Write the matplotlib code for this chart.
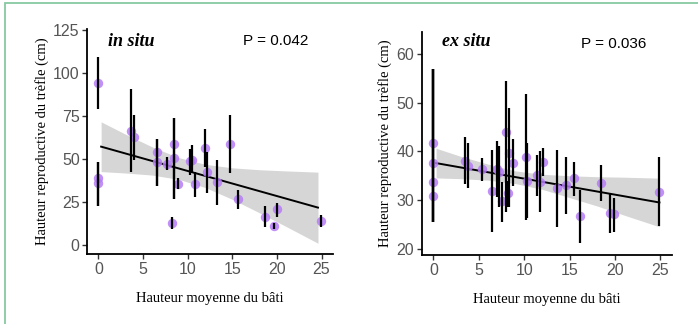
import matplotlib
matplotlib.use("Agg")
import matplotlib.pyplot as plt
from matplotlib.patches import Rectangle
import numpy as np

# ---------------- data: in situ ----------------
ins_x = [0, 0, 0, 3.62, 4.0, 6.57, 6.57, 7.69, 8.44, 8.44, 8.22, 8.96, 10.27, 10.46,
         10.83, 11.95, 12.2, 13.33, 14.75, 15.68, 18.67, 19.67, 20.05, 24.9]
ins_y = [94.4, 38.9, 36.0, 66.6, 62.7, 54.4, 48.2, 47.2, 58.8, 50.5, 13.1, 35.6, 49.0, 49.3,
         35.6, 56.5, 42.4, 36.6, 58.8, 26.7, 16.6, 11.2, 21.1, 14.1]
ins_lo = [79.2, 22.8, 22.8, 42.7, 49.5, 34.6, 34.6, 43.7, 26.9, 26.9, 9.3, 32.5, 40.8, 41.8,
          28.2, 45.6, 30.2, 23.4, 41.8, 20.9, 10.5, 9.3, 16.6, 10.5]
ins_hi = [109.2, 48.5, 48.5, 90.6, 75.7, 61.5, 61.5, 51.5, 73.7, 73.7, 16.6, 38.9, 55.7, 58.2,
          42.7, 67.5, 54.4, 49.5, 75.5, 32.1, 22.8, 12.8, 24.7, 17.6]
ins_fit_x = [0.3, 24.6]
ins_fit_y = [57.3, 21.9]
ins_rib_x = [0.3, 3, 6, 9, 12, 15, 18, 21, 24.6]
ins_rib_lo = [42.8, 42.0, 40.8, 38.3, 33.5, 26.7, 19.0, 11.0, 1.2]
ins_rib_hi = [71.7, 64.6, 57.2, 50.9, 47.0, 45.0, 43.9, 43.2, 42.5]

# ---------------- data: ex situ ----------------
ex_x = [0, 0, 0, 0, 3.5, 3.86, 5.33, 6.44, 7.0, 7.2, 7.54, 8.0, 8.2, 8.38, 8.75,
        10.22, 10.3, 11.47, 11.76, 12.13, 13.6, 14.63, 15.51, 16.17, 18.49, 19.4, 19.85, 24.88]
ex_y = [41.7, 37.6, 33.8, 30.9, 38.1, 37.1, 36.3, 31.9, 36.4, 35.8, 29.9, 43.9, 31.4, 39.6, 37.7,
        38.9, 34.0, 35.2, 33.8, 37.9, 32.55, 33.0, 34.5, 26.7, 33.6, 27.3, 27.1, 31.7]
ex_lo = [25.4, 25.4, 25.4, 25.4, 33.3, 32.4, 33.9, 23.5, 30.6, 28.6, 25.5, 27.6, 28.5, 28.6, 32.9,
         25.9, 26.3, 30.8, 27.6, 35.0, 24.5, 27.1, 30.9, 21.2, 29.9, 23.3, 23.5, 24.7]
ex_hi = [56.9, 56.9, 56.9, 56.9, 42.9, 41.7, 38.7, 40.3, 42.2, 41.1, 33.8, 54.4, 34.0, 48.9, 42.6,
         51.8, 41.8, 39.3, 40.0, 40.7, 40.3, 38.9, 37.9, 32.1, 37.2, 31.4, 30.4, 38.8]
ex_fit_x = [0.3, 24.9]
ex_fit_y = [37.6, 29.5]
ex_rib_x = [0.3, 3, 6, 9, 12, 15, 18, 21, 24.9]
ex_rib_lo = [34.55, 34.4, 34.1, 33.4, 32.2, 30.5, 28.8, 26.9, 24.5]
ex_rib_hi = [40.65, 39.0, 37.4, 36.0, 35.3, 35.0, 34.8, 34.7, 34.5]

x_ticks = [0, 5, 10, 15, 20, 25]
ins_yticks = [0, 25, 50, 75, 100, 125]
ex_yticks = [20, 30, 40, 50, 60]

W, H = 698, 324
fig = plt.figure(figsize=(W / 100, H / 100), dpi=100)
fig.patch.set_facecolor("white")

# green frame
fig.patches.append(Rectangle((5 / W, -0.1), 1.2, 1.1 - 3.5 / H,
                             transform=fig.transFigure, fill=False,
                             edgecolor="#86c9a0", linewidth=1.3))

serif = ["Liberation Serif", "DejaVu Serif"]
sans = ["Liberation Sans", "DejaVu Sans"]
pt_color = "#b57cf6"

def panel(rect, xs, ys, lo, hi, fx, fy, rx, rlo, rhi, ylim, yticks):
    ax = fig.add_axes(rect)
    ax.fill_between(rx, rlo, rhi, color="#d6d6d6", linewidth=0, zorder=1)
    ax.plot(fx, fy, color="black", linewidth=1.4, zorder=2)
    ax.scatter(xs, ys, s=46, color=pt_color, alpha=0.85, linewidths=0, zorder=3)
    ax.vlines(xs, lo, hi, color="black", linewidth=1.6, zorder=4)
    ax.set_xlim(-1.25, 26.25)
    ax.set_ylim(*ylim)
    ax.set_xticks(x_ticks)
    ax.set_yticks(yticks)
    for s in ("top", "right"):
        ax.spines[s].set_visible(False)
    for s in ("left", "bottom"):
        ax.spines[s].set_linewidth(1.3)
    ax.tick_params(axis="both", length=3.5, width=1.0, color="#333333",
                   labelcolor="#555555", labelsize=11.5, pad=2)
    for lab in ax.get_xticklabels() + ax.get_yticklabels():
        lab.set_family(sans)
    ax.set_xlabel("Hauteur moyenne du bâti", family=serif, fontsize=10.5, labelpad=11)
    ax.set_ylabel("Hauteur reproductive du trèfle (cm)", family=serif, fontsize=10.5, labelpad=3)
    return ax

ax1 = panel([87.3 / W, 70 / H, (332.7 - 87.3) / W, (254 - 28.7) / H],
            ins_x, ins_y, ins_lo, ins_hi, ins_fit_x, ins_fit_y,
            ins_rib_x, ins_rib_lo, ins_rib_hi, (-5.05, 125.8), ins_yticks)
ax2 = panel([422 / W, 69 / H, (671.7 - 422) / W, (255 - 32.3) / H],
            ex_x, ex_y, ex_lo, ex_hi, ex_fit_x, ex_fit_y,
            ex_rib_x, ex_rib_lo, ex_rib_hi, (18.7, 64.5), ex_yticks)

fig.text(108 / W, 1 - 45.5 / H, "in situ", family=serif, fontsize=13,
         fontweight="bold", fontstyle="italic", va="baseline", ha="left")
fig.text(242.7 / W, 1 - 45 / H, "P = 0.042", family=sans, fontsize=11,
         va="baseline", ha="left")
fig.text(441.7 / W, 1 - 45.7 / H, "ex situ", family=serif, fontsize=13,
         fontweight="bold", fontstyle="italic", va="baseline", ha="left")
fig.text(581.3 / W, 1 - 48.3 / H, "P = 0.036", family=sans, fontsize=11,
         va="baseline", ha="left")

fig.savefig("out.png", dpi=100, facecolor="white")
